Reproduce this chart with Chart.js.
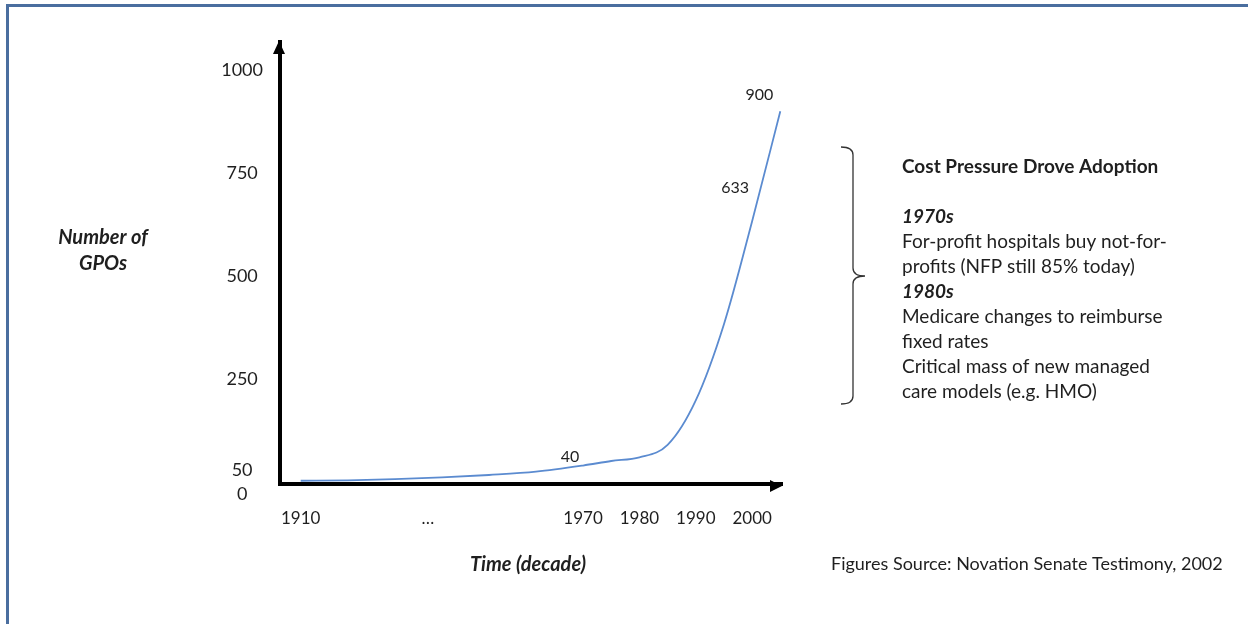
<!DOCTYPE html>
<html>
<head>
<meta charset="utf-8">
<script src="https://cdn.jsdelivr.net/npm/chart.js@4.4.1/dist/chart.umd.min.js"></script>
<style>
  html, body { margin: 0; padding: 0; background: #fff; overflow: hidden; }
  #wrap { position: relative; width: 1248px; height: 624px; }
  #frame { position: absolute; left: 6px; top: 4px; right: -10px; bottom: -10px;
           border-top: 3px solid #4a6e9f; border-left: 3px solid #4a6e9f; pointer-events: none; }
  canvas { display: block; }
</style>
</head>
<body>
<div id="wrap">
  <canvas id="c" width="1248" height="624"></canvas>
  <div id="frame"></div>
</div>
<script>
// ---- data ----
const years      = [1910, 1920, 1930, 1940, 1950, 1960, 1970, 1975, 1980, 1985, 1990, 1995, 2000, 2005];
const gpoCounts  = [3,    4,    7,    11,   17,   25,   40,   51,   60,   90,   198,  383,  633,  900];
const labeledYears = [1970, 2000, 2005];

const xTickYears  = [1910, 1937, 1970, 1980, 1990, 2000];
const xTickLabels = ['1910', '…', '1970', '1980', '1990', '2000'];
const yTickValues = [1000, 750, 500, 250, 0];
const yTickLabels = ['1000', '750', '500', '250', ['50', '0']];

const yAxisTitle = ['Number of', 'GPOs'];
const xAxisTitle = 'Time (decade)';
const sourceNote = 'Figures Source: Novation Senate Testimony, 2002';
const noteLines = [
  { text: 'Cost Pressure Drove Adoption', style: 'bold' },
  { text: '', style: '' },
  { text: '1970s', style: 'italic bold' },
  { text: 'For-profit hospitals buy not-for-', style: '' },
  { text: 'profits (NFP still 85% today)', style: '' },
  { text: '1980s', style: 'italic bold' },
  { text: 'Medicare changes to reimburse', style: '' },
  { text: 'fixed rates', style: '' },
  { text: 'Critical mass of new managed', style: '' },
  { text: 'care models (e.g. HMO)', style: '' }
];

// ---- x scale with a compressed segment before the break year ----
class BrokenLinearScale extends Chart.LinearScale {
  _warp(v) { const b = this.options.breakAt, k = this.options.compress; return v < b ? b - (b - v) * k : v; }
  _unwarp(w) { const b = this.options.breakAt, k = this.options.compress; return w < b ? b - (b - w) / k : w; }
  getPixelForValue(value) {
    if (value === null || value === undefined) return NaN;
    const a = this._warp(this.min), z = this._warp(this.max);
    return this.getPixelForDecimal((this._warp(value) - a) / (z - a));
  }
  getValueForPixel(pixel) {
    const a = this._warp(this.min), z = this._warp(this.max);
    return this._unwarp(a + this.getDecimalForPixel(pixel) * (z - a));
  }
}
BrokenLinearScale.id = 'brokenLinear';
BrokenLinearScale.defaults = Chart.LinearScale.defaults;
Chart.register(BrokenLinearScale);

const FONT = 'Lato, "Open Sans", sans-serif';
const TEXT = '#1f1f1f';

const decorPlugin = {
  id: 'decor',
  afterDraw(chart) {
    const { ctx, chartArea: ca } = chart;
    const xs = chart.scales.x, ys = chart.scales.y;
    ctx.save();
    // arrowheads on the axes
    ctx.fillStyle = '#000';
    const ax = ca.left - 1;
    ctx.beginPath();
    ctx.moveTo(ax, ca.top - 1);
    ctx.lineTo(ax - 6, ca.top + 12);
    ctx.lineTo(ax + 6, ca.top + 12);
    ctx.closePath(); ctx.fill();
    const ay = ca.bottom + 2;
    ctx.beginPath();
    ctx.moveTo(ca.right, ay);
    ctx.lineTo(ca.right - 12, ay - 6);
    ctx.lineTo(ca.right - 12, ay + 6);
    ctx.closePath(); ctx.fill();

    // data labels
    ctx.fillStyle = TEXT;
    ctx.font = '16px ' + FONT;
    ctx.textAlign = 'center';
    ctx.textBaseline = 'middle';
    const offs = { 1970: [-13, -9], 2000: [-17, -33], 2005: [-21, -16] };
    labeledYears.forEach(yr => {
      const i = years.indexOf(yr);
      const px = xs.getPixelForValue(yr), py = ys.getPixelForValue(gpoCounts[i]);
      const o = offs[yr] || [0, -12];
      ctx.fillText(String(gpoCounts[i]), px + o[0], py + o[1]);
    });

    // axis titles
    ctx.font = 'italic bold 20px ' + FONT;
    ctx.fillText(yAxisTitle[0], 103, 238);
    ctx.fillText(yAxisTitle[1], 103, 264);
    ctx.fillText(xAxisTitle, 528, 565);

    // source
    ctx.font = '18px ' + FONT;
    ctx.textAlign = 'left';
    ctx.fillText(sourceNote, 831, 564);

    // brace
    ctx.strokeStyle = '#333';
    ctx.lineWidth = 1.3;
    ctx.beginPath();
    ctx.moveTo(841, 147);
    ctx.quadraticCurveTo(853, 147, 853, 155);
    ctx.lineTo(853, 268);
    ctx.quadraticCurveTo(853, 276, 865, 276);
    ctx.quadraticCurveTo(853, 276, 853, 284);
    ctx.lineTo(853, 396);
    ctx.quadraticCurveTo(853, 404, 841, 404);
    ctx.stroke();

    // annotation block
    noteLines.forEach((ln, i) => {
      if (!ln.text) return;
      ctx.font = (ln.style ? ln.style + ' ' : '') + '19px ' + FONT;
      ctx.fillText(ln.text, 902, 167 + 25 * i);
    });
    ctx.restore();
  }
};

new Chart(document.getElementById('c'), {
  type: 'line',
  data: {
    datasets: [{
      data: years.map((y, i) => ({ x: y, y: gpoCounts[i] })),
      borderColor: '#5b8bd0',
      borderWidth: 1.8,
      pointRadius: 0,
      fill: false,
      cubicInterpolationMode: 'monotone',
      clip: false
    }]
  },
  options: {
    responsive: false,
    animation: false,
    events: [],
    layout: { padding: { left: 0, top: 42, right: 466, bottom: 0 } },
    plugins: { legend: { display: false }, tooltip: { enabled: false }, title: { display: false } },
    scales: {
      x: {
        type: 'brokenLinear',
        breakAt: 1970,
        compress: 0.835,
        min: 1905.6,
        max: 2005.3,
        grid: { display: false, drawTicks: false },
        border: { display: true, width: 4, color: '#000' },
        afterBuildTicks: s => { s.ticks = xTickYears.map(v => ({ value: v })); },
        afterFit: s => { s.height = 140; },
        ticks: {
          autoSkip: false, maxRotation: 0, padding: 24,
          color: TEXT, font: { family: FONT, size: 17 },
          callback: (v, i) => xTickLabels[i]
        }
      },
      y: {
        type: 'linear',
        min: -4.85,
        max: 1068,
        grid: { display: false, drawTicks: false },
        border: { display: true, width: 4, color: '#000' },
        afterBuildTicks: s => { s.ticks = yTickValues.map(v => ({ value: v })); },
        afterFit: s => { s.width = 280; },
        ticks: {
          crossAlign: 'center', padding: 17,
          color: TEXT, font: { family: FONT, size: 18, lineHeight: 1.35 },
          callback: (v, i) => yTickLabels[i]
        }
      }
    }
  },
  plugins: [decorPlugin]
});
</script>
</body>
</html>
